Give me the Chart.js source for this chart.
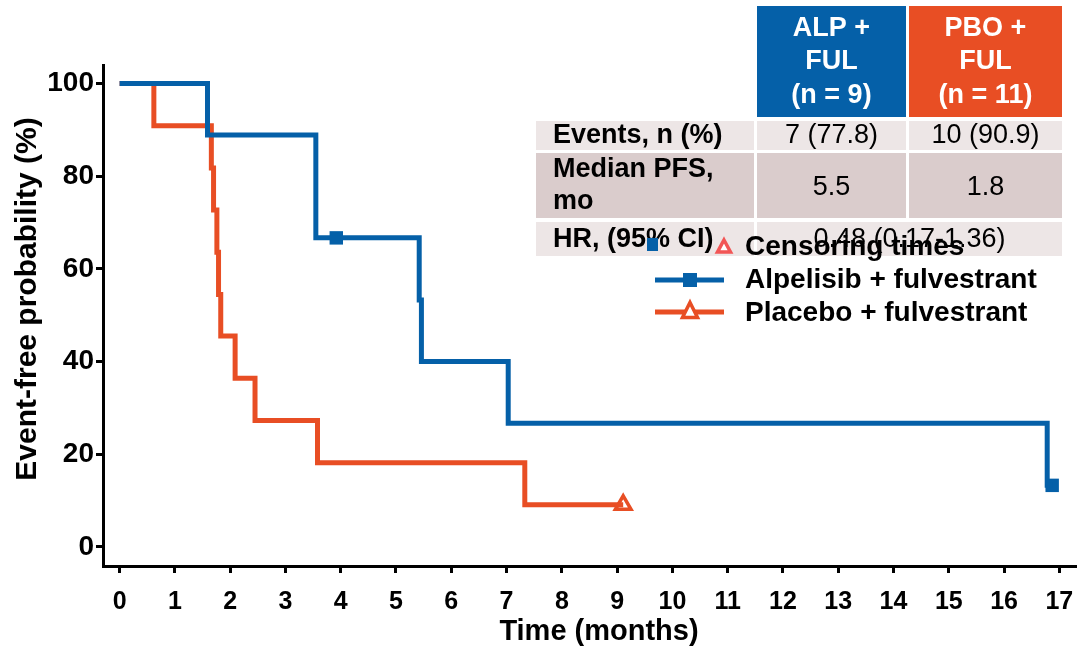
<!DOCTYPE html>
<html>
<head>
<meta charset="utf-8">
<script src="https://cdn.jsdelivr.net/npm/chart.js@4.4.0/dist/chart.umd.min.js"></script>
<style>
  html, body { margin: 0; padding: 0; background: #fff; }
</style>
</head>
<body>
<canvas id="km" width="1089" height="646"></canvas>
<script>
// 알펠리십 + 풀베스트란트 (event times, survival after each step)
const alpTimes = [0, 1.59, 3.55, 5.42, 5.46, 7.03, 16.78];
const alpSurv = [100, 88.9, 66.7, 53.3, 40.0, 26.7, 13.3];
const alpCensorTimes = [3.92, 16.87];
const alpCensorSurv = [66.7, 13.3];

// 위약 + 풀베스트란트
const pboTimes = [0, 0.62, 1.66, 1.7, 1.76, 1.79, 1.83, 2.09, 2.45, 3.58, 7.33];
const pboSurv = [100, 90.9, 81.8, 72.7, 63.6, 54.5, 45.5, 36.4, 27.3, 18.2, 9.1];
const pboCensorTimes = [9.11];
const pboCensorSurv = [9.1];

const xTicks = [0, 1, 2, 3, 4, 5, 6, 7, 8, 9, 10, 11, 12, 13, 14, 15, 16, 17];
const yTicks = [0, 20, 40, 60, 80, 100];

const tableHead = [["ALP +", "FUL", "(n = 9)"], ["PBO +", "FUL", "(n = 11)"]];
const tableRows = ["Events, n (%)", "Median PFS,|mo", "HR, (95% CI)"];
const tableEvents = ["7 (77.8)", "10 (90.9)"];
const tableMedian = ["5.5", "1.8"];
const tableHR = "0.48 (0.17-1.36)";

const blue = "#0560a8";
const orange = "#e84e24";
const pinkRed = "#f25656";
const FONT = "'Liberation Sans', Arial, sans-serif";

// 곡선 = 사건 + 중도절단 점을 시간 순으로
function curve(times, surv, cTimes, cSurv) {
  const pts = times.map((t, k) => ({ x: t, y: surv[k] }));
  cTimes.forEach((t, k) => pts.push({ x: t, y: cSurv[k] }));
  return pts.sort((a, b) => a.x - b.x);
}
function marks(cTimes, cSurv) {
  return cTimes.map((t, k) => ({ x: t, y: cSurv[k] }));
}

function tri(ctx, x, y, w, h, color, lw) {
  ctx.beginPath();
  ctx.moveTo(x, y - h / 2);
  ctx.lineTo(x + w / 2, y + h / 2);
  ctx.lineTo(x - w / 2, y + h / 2);
  ctx.closePath();
  ctx.fillStyle = "#fff";
  ctx.fill();
  ctx.lineWidth = lw;
  ctx.strokeStyle = color;
  ctx.lineJoin = "miter";
  ctx.stroke();
}

const decor = {
  id: "decor",
  afterDraw(chart) {
    const ctx = chart.ctx;
    ctx.save();
    // 표 배경
    const c1 = [536, 754], c2 = [757, 906], c3 = [909, 1062];
    ctx.fillStyle = blue;
    ctx.fillRect(c2[0], 6, c2[1] - c2[0], 111);
    ctx.fillStyle = orange;
    ctx.fillRect(c3[0], 6, c3[1] - c3[0], 111);
    const light = "#ede6e6", dark = "#dacccc";
    [[121, 150, light], [153, 218, dark]].forEach((r) => {
      ctx.fillStyle = r[2];
      [c1, c2, c3].forEach((c) => ctx.fillRect(c[0], r[0], c[1] - c[0], r[1] - r[0]));
    });
    ctx.fillStyle = light;
    ctx.fillRect(c1[0], 222, c1[1] - c1[0], 34);
    ctx.fillRect(c2[0], 222, c3[1] - c2[0], 34);

    // 헤더
    ctx.textAlign = "center";
    ctx.textBaseline = "middle";
    ctx.fillStyle = "#fff";
    ctx.font = "bold 27px " + FONT;
    const hy = [29, 62, 96];
    tableHead[0].forEach((s, k) => ctx.fillText(s, (c2[0] + c2[1]) / 2, hy[k]));
    tableHead[1].forEach((s, k) => ctx.fillText(s, (c3[0] + c3[1]) / 2, hy[k]));

    // 행 이름
    ctx.fillStyle = "#000";
    ctx.textAlign = "left";
    ctx.fillText(tableRows[0], 553, 136);
    const med = tableRows[1].split("|");
    ctx.fillText(med[0], 553, 170);
    ctx.fillText(med[1], 553, 202);
    ctx.fillText(tableRows[2], 553, 240);

    // 값
    ctx.font = "27px " + FONT;
    ctx.textAlign = "center";
    ctx.fillText(tableEvents[0], (c2[0] + c2[1]) / 2, 136);
    ctx.fillText(tableEvents[1], (c3[0] + c3[1]) / 2, 136);
    ctx.fillText(tableMedian[0], (c2[0] + c2[1]) / 2, 188);
    ctx.fillText(tableMedian[1], (c3[0] + c3[1]) / 2, 188);
    ctx.fillText(tableHR, (c2[0] + c3[1]) / 2, 240);

    // 범례 (표 위에 겹침)
    ctx.fillStyle = blue;
    ctx.fillRect(647, 238, 11, 13);
    tri(ctx, 724, 246, 13, 12, pinkRed, 3.5);
    ctx.lineCap = "butt";
    ctx.lineWidth = 5;
    ctx.strokeStyle = blue;
    ctx.beginPath(); ctx.moveTo(655, 280); ctx.lineTo(724, 280); ctx.stroke();
    ctx.fillStyle = blue;
    ctx.fillRect(683, 273, 14, 14);
    ctx.strokeStyle = orange;
    ctx.beginPath(); ctx.moveTo(655, 312); ctx.lineTo(724, 312); ctx.stroke();
    tri(ctx, 690, 310, 15, 15, orange, 3.5);
    ctx.fillStyle = "#000";
    ctx.textAlign = "left";
    ctx.font = "bold 28px " + FONT;
    ctx.fillText("Censoring times", 745, 247);
    ctx.fillText("Alpelisib + fulvestrant", 745, 280);
    ctx.fillText("Placebo + fulvestrant", 745, 313);

    // 축 제목
    ctx.textAlign = "center";
    ctx.font = "bold 29px " + FONT;
    ctx.fillText("Time (months)", 599, 632);
    ctx.translate(28, 299);
    ctx.rotate(-Math.PI / 2);
    ctx.font = "bold 30px " + FONT;
    ctx.fillText("Event-free probability (%)", 0, 0);
    ctx.restore();
  },
};

new Chart(document.getElementById("km"), {
  type: "line",
  data: {
    datasets: [
      {
        data: curve(alpTimes, alpSurv, alpCensorTimes, alpCensorSurv),
        borderColor: blue,
        borderWidth: 5,
        stepped: true,
        pointRadius: 0,
        borderJoinStyle: "miter",
      },
      {
        data: curve(pboTimes, pboSurv, pboCensorTimes, pboCensorSurv),
        borderColor: orange,
        borderWidth: 5,
        stepped: true,
        pointRadius: 0,
        borderJoinStyle: "miter",
      },
      {
        type: "scatter",
        data: marks(alpCensorTimes, alpCensorSurv),
        pointStyle: "rect",
        pointRadius: 9.5,
        backgroundColor: blue,
        borderColor: blue,
        borderWidth: 0,
        clip: false,
      },
      {
        type: "scatter",
        data: marks(pboCensorTimes, pboCensorSurv),
        pointStyle: "triangle",
        pointRadius: 9,
        backgroundColor: "#fff",
        borderColor: orange,
        borderWidth: 3.5,
        clip: false,
      },
    ],
  },
  options: {
    responsive: false,
    animation: false,
    events: [],
    layout: { padding: { top: 65, right: 3, left: 0, bottom: 0 } },
    plugins: { legend: { display: false }, tooltip: { enabled: false } },
    scales: {
      x: {
        type: "linear",
        min: -0.3,
        max: 17.31,
        afterBuildTicks: (s) => { s.ticks = xTicks.map((v) => ({ value: v })); },
        afterFit: (s) => { s.height = 80; s.paddingRight = 0; s.paddingLeft = 0; },
        ticks: { color: "#000", font: { family: FONT, size: 25, weight: "bold" }, padding: 14, maxRotation: 0, autoSkip: false },
        grid: { drawOnChartArea: false, tickLength: 7, tickWidth: 3, tickColor: "#000" },
        border: { display: true, color: "#000", width: 3 },
      },
      y: {
        min: -4.1,
        max: 104,
        afterBuildTicks: (s) => { s.ticks = yTicks.map((v) => ({ value: v })); },
        afterFit: (s) => { s.width = 103; s.paddingTop = 0; s.paddingBottom = 0; },
        ticks: { color: "#000", font: { family: FONT, size: 28, weight: "bold" }, padding: 2 },
        grid: { drawOnChartArea: false, tickLength: 7, tickWidth: 3, tickColor: "#000" },
        border: { display: true, color: "#000", width: 3 },
      },
    },
  },
  plugins: [decor],
});
</script>
</body>
</html>
